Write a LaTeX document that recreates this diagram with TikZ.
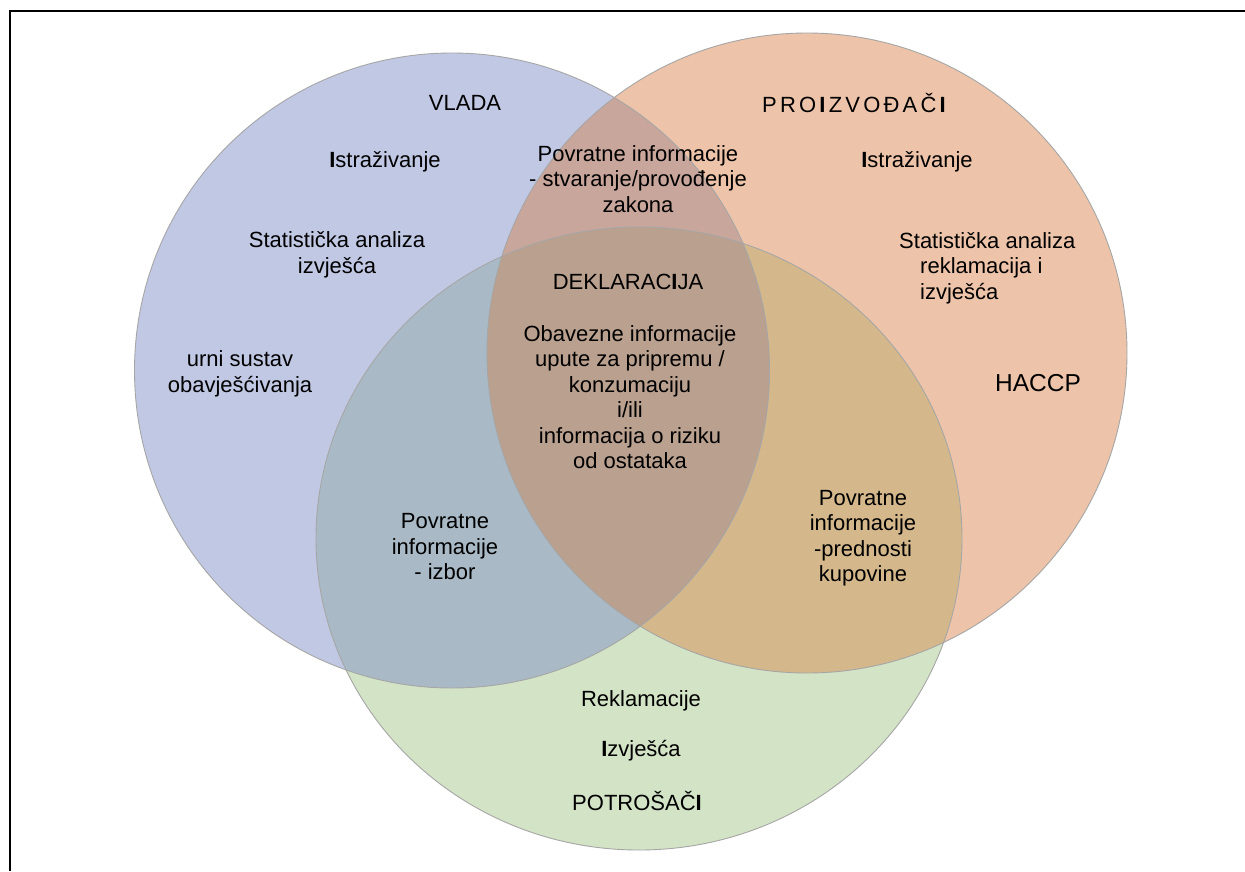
\documentclass[tikz,border=0pt]{standalone}
\usepackage{fontspec}
\setmainfont{Liberation Sans}
\definecolor{cB}{HTML}{C1C8E4}
\definecolor{cO}{HTML}{EDC4A9}
\definecolor{cG}{HTML}{D3E3C6}
\definecolor{cBO}{HTML}{C9A69B}
\definecolor{cBG}{HTML}{A9BAC6}
\definecolor{cOG}{HTML}{D4B88B}
\definecolor{cBOG}{HTML}{BAA08E}
\definecolor{cEdge}{HTML}{A6A6A6}
\tikzset{
  lbl/.style={align=center, inner sep=0pt, font=\fontsize{22}{25.5}\selectfont, text=black},
  edge/.style={draw=cEdge, line width=0.9pt},
}
\newcommand{\bI}{\textbf{I}}
\newcommand{\ls}{\kern3.2pt}
\begin{document}
\begin{tikzpicture}[x=1pt,y=-1pt]
\useasboundingbox (0,0) rectangle (1245,871);
\fill[white] (0,0) rectangle (1245,871);
\coordinate (B) at (452,370.5);
\coordinate (O) at (807,353);
\coordinate (G) at (639,538.5);
\def\pB{(B) circle [radius=317.5]}
\def\pO{(O) circle [radius=320]}
\def\pG{(G) ellipse [x radius=323, y radius=311.5]}
% base fills
\fill[cB] \pB;
\fill[cO] \pO;
\fill[cG] \pG;
% pairwise overlaps
\begin{scope}\clip \pB; \fill[cBO] \pO; \end{scope}
\begin{scope}\clip \pB; \fill[cBG] \pG; \end{scope}
\begin{scope}\clip \pO; \fill[cOG] \pG; \end{scope}
\begin{scope}\clip \pB; \clip \pO; \fill[cBOG] \pG; \end{scope}
% outlines
\draw[edge] \pB;
\draw[edge] \pO;
\draw[edge] \pG;
% frame
\coordinate (f0) at (10,11);
\coordinate (f1) at (1245,11);
\coordinate (f2) at (10,871);
\draw[black, line width=1.3pt] (f1) -- (f0) -- (f2);
% labels
\node[lbl] (vlada) at (465,103) {VLADA};
\node[lbl] (istrL) at (385,162) {\bI{}straživanje};
\node[lbl] (statL) at (337,255) {Statistička analiza\\izvješća};
\node[lbl] (urni) at (240,374) {urni sustav\\obavješćivanja};
\node[lbl] (povBO) at (638,179) {Povratne informacije\\- stvaranje/provođenje\\zakona};
\node[lbl] (proiz) at (854,103) {P\ls R\ls O\ls\bI\ls Z\ls V\ls O\ls Đ\ls A\ls Č\ls\bI};
\node[lbl] (istrR) at (917,162) {\bI{}straživanje};
\node[lbl, align=left, anchor=west] (statR) at (899,268) {Statistička analiza\\\hspace*{21pt}reklamacija i\\\hspace*{21pt}izvješća};
\node[lbl, font=\fontsize{24.5}{28}\selectfont] (haccp) at (1038,383) {HACCP};
\node[lbl] (dekl) at (628,282) {DEKLARAC\bI{}JA};
\node[lbl] (obav) at (630,397) {Obavezne informacije\\upute za pripremu /\\konzumaciju\\i/ili\\informacija o riziku\\od ostataka};
\node[lbl] (povBG) at (445,547) {Povratne\\informacije\\- izbor};
\node[lbl] (povOG) at (863,538) {Povratne\\informacije\\-prednosti\\kupovine};
\node[lbl] (rekl) at (641,701) {Reklamacije};
\node[lbl] (izvj) at (641,751) {\bI{}zvješća};
\node[lbl] (potr) at (637,801) {POTROŠAČ\bI};
\end{tikzpicture}
\end{document}
